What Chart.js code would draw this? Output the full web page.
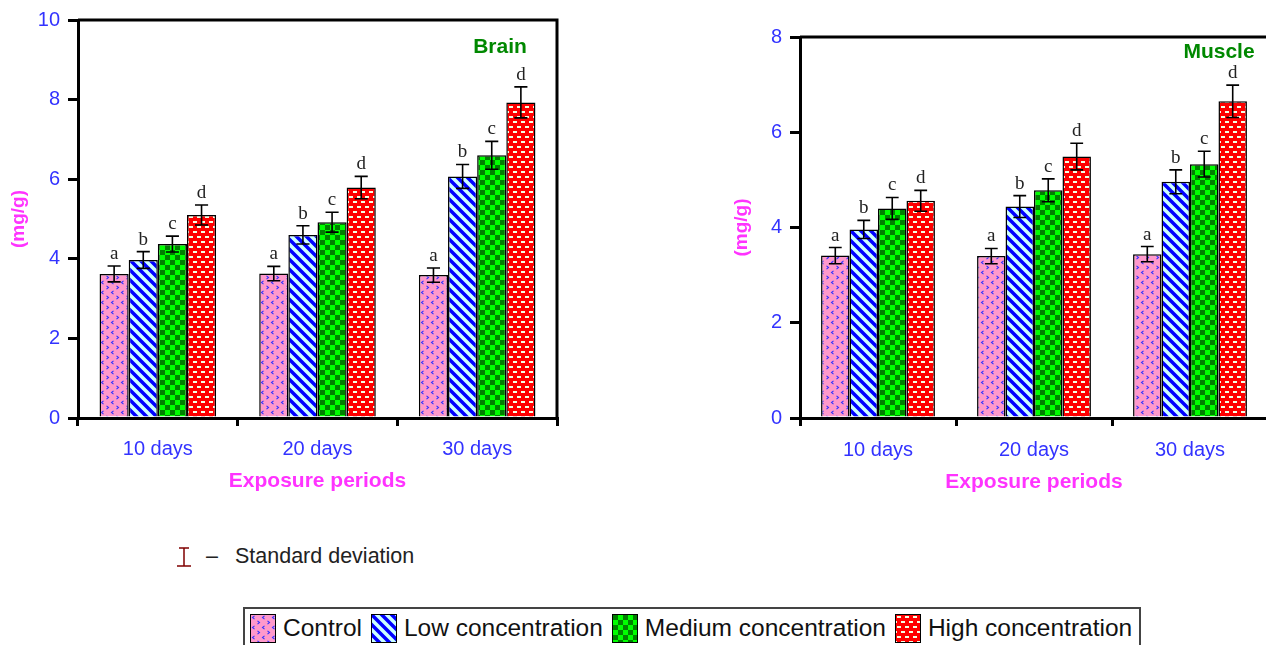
<!DOCTYPE html>
<html>
<head>
<meta charset="utf-8">
<script src="https://cdn.jsdelivr.net/npm/chart.js@4.4.1/dist/chart.umd.min.js"></script>
<style>
  body { margin: 0; background: #fff; width: 1266px; height: 645px; overflow: hidden; position: relative; font-family: "Liberation Sans", Arial, sans-serif; }
  .box { position: absolute; top: 0; width: 600px; height: 500px; }
  #brainBox { left: 0; }
  #muscleBox { left: 720px; }
  #legend { position: absolute; left: 243px; top: 607px; width: 898px; height: 42px; border: 2px solid #444; display: flex; align-items: center; padding-left: 5px; box-sizing: border-box; white-space: nowrap; }
  #legend .item { display: flex; align-items: center; flex-shrink: 0; margin-right: 9px; font-size: 24.5px; color: #111; white-space: nowrap; }
  #legend canvas { border: 1.5px solid #000; margin-right: 7px; flex-shrink: 0; }
  #sdNote { position: absolute; left: 176px; top: 544px; display: flex; align-items: center; font-size: 21.5px; color: #222; white-space: nowrap; }
  #sdNote .dash { margin: 0 17px 0 14px; }
</style>
</head>
<body>
<div id="brainBox" class="box"><canvas id="brainChart"></canvas></div>
<div id="muscleBox" class="box"><canvas id="muscleChart"></canvas></div>
<div id="sdNote"><canvas id="sdIcon" width="16" height="24"></canvas><span class="dash">–</span><span>Standard deviation</span></div>
<div id="legend"></div>
<script>
// categories and series
var categories = ["10 days", "20 days", "30 days"];
var seriesNames = ["Control", "Low concentration", "Medium concentration", "High concentration"];
var letters = ["a", "b", "c", "d"];

// Brain (mg/g)
var brainControl = [3.62, 3.63, 3.59];
var brainLow = [3.97, 4.6, 6.07];
var brainMedium = [4.37, 4.92, 6.6];
var brainHigh = [5.1, 5.79, 7.93];
var brainControlSD = [0.2, 0.18, 0.18];
var brainLowSD = [0.21, 0.23, 0.3];
var brainMediumSD = [0.2, 0.25, 0.35];
var brainHighSD = [0.25, 0.28, 0.39];
var brainTicks = [0, 2, 4, 6, 8, 10];

// Muscle (mg/g)
var muscleControl = [3.41, 3.4, 3.44];
var muscleLow = [3.96, 4.44, 4.96];
var muscleMedium = [4.4, 4.78, 5.33];
var muscleHigh = [4.56, 5.49, 6.65];
var muscleControlSD = [0.17, 0.16, 0.16];
var muscleLowSD = [0.19, 0.23, 0.25];
var muscleMediumSD = [0.23, 0.24, 0.27];
var muscleHighSD = [0.22, 0.28, 0.34];
var muscleTicks = [0, 2, 4, 6, 8];

// fill patterns like the old spreadsheet ones
function makePattern(kind) {
    var c = document.createElement("canvas");
    var ctx = c.getContext("2d");
    if (kind === 0) {
        c.width = 10; c.height = 10;
        ctx.fillStyle = "#ff99cc";
        ctx.fillRect(0, 0, 10, 10);
        ctx.strokeStyle = "#3333ff";
        ctx.lineWidth = 1.1;
        ctx.beginPath();
        ctx.moveTo(3.5, 0.8); ctx.lineTo(1.5, 2.5); ctx.lineTo(3.5, 4.2);
        ctx.moveTo(6.5, 5.8); ctx.lineTo(8.5, 7.5); ctx.lineTo(6.5, 9.2);
        ctx.stroke();
    } else if (kind === 1) {
        c.width = 10; c.height = 10;
        ctx.fillStyle = "#ccffff";
        ctx.fillRect(0, 0, 10, 10);
        ctx.strokeStyle = "#0000ff";
        ctx.lineWidth = 3.5;
        ctx.beginPath();
        ctx.moveTo(-5, -5); ctx.lineTo(15, 15);
        ctx.moveTo(-10, 0); ctx.lineTo(10, 20);
        ctx.moveTo(0, -10); ctx.lineTo(20, 10);
        ctx.stroke();
    } else if (kind === 2) {
        c.width = 10; c.height = 10;
        ctx.fillStyle = "#00ff00";
        ctx.fillRect(0, 0, 10, 10);
        ctx.fillStyle = "#008000";
        ctx.fillRect(0, 0, 5, 5);
        ctx.fillRect(5, 5, 5, 5);
    } else {
        c.width = 8; c.height = 10;
        ctx.fillStyle = "#ff0000";
        ctx.fillRect(0, 0, 8, 10);
        ctx.fillStyle = "#f4ffe4";
        ctx.fillRect(1, 1, 4, 2);
        ctx.fillRect(5, 6, 4, 2);
        ctx.fillRect(-3, 6, 4, 2);
    }
    return c;
}

var patternCanvases = [0, 1, 2, 3].map(makePattern);

function patterns(ctx) {
    return patternCanvases.map(function(pc) { return ctx.createPattern(pc, "repeat"); });
}

// error bars + letters above bars
var errorBarPlugin = {
    id: "errorBars",
    afterDatasetsDraw: function(chart) {
        var ctx = chart.ctx;
        var y = chart.scales.y;
        ctx.save();
        chart.data.datasets.forEach(function(ds, i) {
            var meta = chart.getDatasetMeta(i);
            meta.data.forEach(function(bar, j) {
                var v = ds.data[j], sd = ds.sd[j];
                var top = y.getPixelForValue(v + sd);
                var bot = y.getPixelForValue(v - sd);
                var cap = bar.width * 0.45;
                ctx.strokeStyle = "#000";
                ctx.lineWidth = 1.6;
                ctx.beginPath();
                ctx.moveTo(bar.x, top); ctx.lineTo(bar.x, bot);
                ctx.moveTo(bar.x - cap / 2, top); ctx.lineTo(bar.x + cap / 2, top);
                ctx.moveTo(bar.x - cap / 2, bot); ctx.lineTo(bar.x + cap / 2, bot);
                ctx.stroke();
                ctx.fillStyle = "#222";
                ctx.font = '19px "Liberation Serif", serif';
                ctx.textAlign = "center";
                ctx.textBaseline = "alphabetic";
                ctx.fillText(ds.letter, bar.x, top - 7);
            });
        });
        ctx.restore();
    }
};

// top/right frame and organ name inside the plot
var framePlugin = {
    id: "frame",
    afterDraw: function(chart, args, opts) {
        var a = chart.chartArea, ctx = chart.ctx;
        ctx.save();
        ctx.strokeStyle = "#000";
        ctx.lineWidth = 3;
        ctx.beginPath();
        ctx.moveTo(a.left, a.top); ctx.lineTo(a.right, a.top); ctx.lineTo(a.right, a.bottom);
        ctx.stroke();
        ctx.fillStyle = "#008800";
        ctx.font = 'bold 21px "Liberation Sans", Arial, sans-serif';
        ctx.textAlign = "center";
        ctx.textBaseline = "middle";
        ctx.fillText(opts.text, a.right - opts.dx, a.top + opts.dy);
        ctx.restore();
    }
};

function buildChart(id, values, sds, ticks, cfg) {
    var canvas = document.getElementById(id);
    var pats = patterns(canvas.getContext("2d"));
    return new Chart(canvas, {
        type: "bar",
        data: {
            labels: categories,
            datasets: values.map(function(vals, i) {
                return {
                    label: seriesNames[i],
                    data: vals,
                    sd: sds[i],
                    letter: letters[i],
                    backgroundColor: pats[i],
                    borderColor: "#000",
                    borderWidth: 1.5,
                    categoryPercentage: 0.73,
                    barPercentage: 1.0
                };
            })
        },
        options: {
            responsive: true,
            maintainAspectRatio: false,
            animation: false,
            layout: { padding: { left: 0, right: cfg.padRight, top: cfg.padTop, bottom: 0 } },
            plugins: {
                legend: { display: false },
                tooltip: { enabled: false },
                frame: { text: cfg.name, dx: cfg.nameDx, dy: cfg.nameDy }
            },
            scales: {
                x: {
                    afterFit: function(s) { s.height = 82; },
                    grid: { offset: true, drawOnChartArea: false, drawTicks: true, tickLength: 8, color: "#000", lineWidth: 3 },
                    border: { display: true, color: "#000", width: 3 },
                    ticks: { color: "#3333ff", font: { family: "Liberation Sans", size: 20 }, padding: cfg.xTickPad },
                    title: {
                        display: true, text: "Exposure periods", color: "#ff33ff",
                        font: { family: "Liberation Sans", size: 21, weight: "bold" },
                        padding: { top: 0, bottom: cfg.xTitlePad }
                    }
                },
                y: {
                    min: 0,
                    max: ticks[ticks.length - 1],
                    afterFit: function(s) { s.width = cfg.yWidth; },
                    afterBuildTicks: function(s) { s.ticks = ticks.map(function(t) { return { value: t }; }); },
                    grid: { drawOnChartArea: false, drawTicks: true, tickLength: 10, color: "#000", lineWidth: 3 },
                    border: { display: true, color: "#000", width: 3 },
                    ticks: { color: "#3333ff", font: { family: "Liberation Sans", size: 20 }, padding: 8 },
                    title: {
                        display: true, text: "(mg/g)", color: "#ff33ff",
                        font: { family: "Liberation Sans", size: 19, weight: "bold" },
                        padding: { top: cfg.yTitlePad, bottom: 0 }
                    }
                }
            }
        },
        plugins: [errorBarPlugin, framePlugin]
    });
}

buildChart("brainChart",
    [brainControl, brainLow, brainMedium, brainHigh],
    [brainControlSD, brainLowSD, brainMediumSD, brainHighSD],
    brainTicks,
    { name: "Brain", nameDx: 57, nameDy: 27, padRight: 43, padTop: 18, yWidth: 78, xTickPad: 11, xTitlePad: 6, yTitlePad: 7 });

buildChart("muscleChart",
    [muscleControl, muscleLow, muscleMedium, muscleHigh],
    [muscleControlSD, muscleLowSD, muscleMediumSD, muscleHighSD],
    muscleTicks,
    { name: "Muscle", nameDx: 49, nameDy: 15, padRight: 52, padTop: 37, yWidth: 80, xTickPad: 12, xTitlePad: 5, yTitlePad: 10 });

// legend shared by both panels
var legend = document.getElementById("legend");
seriesNames.forEach(function(name, i) {
    var item = document.createElement("div");
    item.className = "item";
    var sw = document.createElement("canvas");
    sw.width = 24; sw.height = 27;
    var sctx = sw.getContext("2d");
    sctx.fillStyle = sctx.createPattern(patternCanvases[i], "repeat");
    sctx.fillRect(0, 0, 24, 27);
    item.appendChild(sw);
    var txt = document.createElement("span");
    txt.textContent = name;
    item.appendChild(txt);
    legend.appendChild(item);
});

// standard deviation symbol
var ic = document.getElementById("sdIcon").getContext("2d");
ic.strokeStyle = "#800000";
ic.lineWidth = 1.5;
ic.beginPath();
ic.moveTo(3, 3); ic.lineTo(13, 3);
ic.moveTo(8, 3); ic.lineTo(8, 21);
ic.moveTo(1, 21); ic.lineTo(15, 21);
ic.stroke();
</script>
</body>
</html>
